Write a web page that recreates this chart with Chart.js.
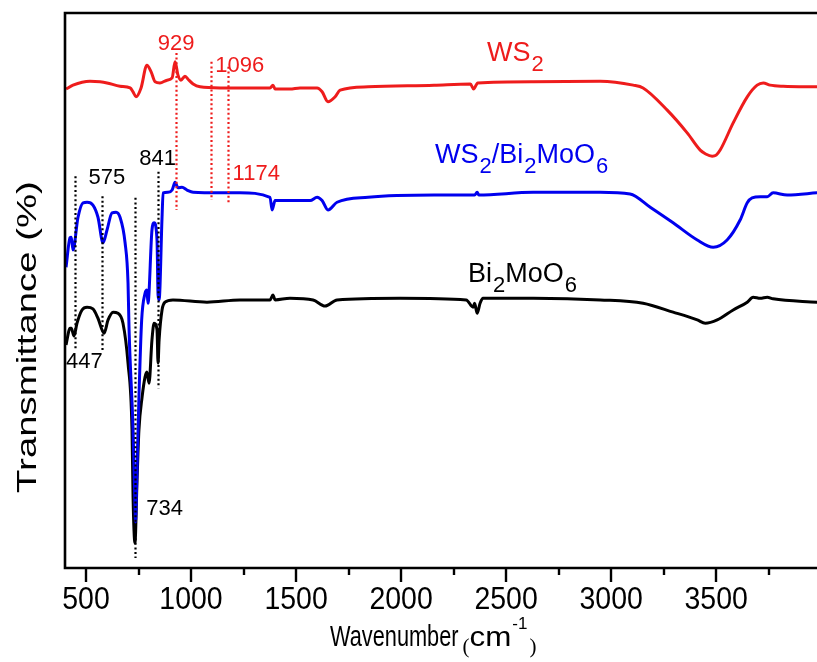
<!DOCTYPE html>
<html>
<head>
<meta charset="utf-8">
<script src="https://cdn.jsdelivr.net/npm/chart.js@4.4.1/dist/chart.umd.min.js"></script>
<style>
  body { margin: 0; background: #fff; }
</style>
</head>
<body>
<canvas id="ftirChart" width="817" height="662"></canvas>
<script>
// FTIR spectra: WS2, WS2/Bi2MoO6 and Bi2MoO6 (offset transmittance)
var ws2Wn = [405,438,519,567,600,662,710,724,738,762,790,810,829,852,886,910,924,938,952,971,990,1010,1043,1138,1233,1376,1390,1400,1471,1519,1600,1624,1652,1686,1710,1843,2157,2330,2345,2365,2629,2948,3105,3152,3267,3362,3424,3450,3481,3500,3519,3581,3648,3695,3724,3757,3819,3981];
var ws2T = [86.3,87.0,87.7,87.6,87.4,86.8,86.5,85.8,84.9,86.5,90.6,89.4,87.6,87.4,87.9,88.3,91.2,88.8,87.9,88.6,87.9,87.2,86.7,86.5,86.5,86.5,87.0,86.3,86.3,86.5,86.5,85.8,84.0,84.9,86.1,86.7,87.0,87.2,86.3,87.4,87.6,87.7,87.0,86.5,82.5,78.4,75.3,74.6,74.2,74.4,75.3,80.2,84.9,87.0,87.4,87.0,86.8,86.7];

var compWn = [405,424,430,438,462,486,505,533,557,581,600,624,643,662,686,700,705,724,733,736,740,752,765,781,790,795,814,824,838,843,848,862,867,890,910,924,938,957,981,1010,1138,1233,1376,1386,1400,1567,1600,1624,1652,1695,1843,2157,2350,2362,2370,2629,2948,3090,3186,3295,3410,3486,3552,3614,3648,3671,3710,3743,3771,3838,3981];
var compT = [54.2,59.5,59.6,57.3,63.2,65.8,65.9,65.4,63.2,58.6,60.9,64.0,64.1,63.2,58.6,51.4,42.9,24.9,11.4,8.3,13.2,30.8,44.7,49.5,50.1,47.7,60.9,62.2,59.1,49.2,48.3,63.2,67.6,67.7,68.1,69.5,68.5,68.6,68.1,67.7,67.6,67.6,66.8,64.5,66.2,66.2,66.8,66.2,64.5,65.9,66.8,67.2,67.2,67.7,67.2,67.7,67.7,67.4,65.0,62.2,59.1,57.8,59.1,62.7,65.8,66.7,66.9,66.9,67.6,67.2,67.6];

var bmoWn = [405,424,430,443,457,481,505,533,557,586,605,629,652,676,700,719,724,733,743,752,767,781,790,800,814,824,838,843,848,862,876,914,1076,1233,1376,1390,1400,1471,1581,1638,1695,1995,2310,2343,2350,2362,2376,2390,2629,2948,3152,3295,3410,3448,3505,3581,3648,3676,3710,3743,3771,3981];
var bmoT = [40.2,43.2,43.2,41.8,44.1,46.5,47.0,46.7,45.0,42.3,44.7,46.1,45.9,44.1,36.9,24.9,12.8,4.5,15.9,24.9,30.8,34.4,35.3,33.3,41.1,44.1,42.9,36.9,41.1,46.5,47.9,48.3,47.9,48.3,48.3,49.2,48.3,48.6,48.3,47.2,48.3,48.6,48.3,47.0,47.7,45.9,47.7,48.6,48.6,48.3,47.7,46.1,44.7,44.1,44.7,46.5,47.9,48.8,48.6,48.8,48.5,47.9];

// marked band positions (cm-1) and the span of their dotted guides
var bandWn = [447, 575, 734, 841];
var bandTop = [70.6, 67.0, 66.7, 71.4];
var bandBottom = [39.3, 38.9, 1.8, 32.4];
var ws2BandWn = [929, 1096, 1174];
var ws2BandTop = [92.8, 91.2, 90.3];
var ws2BandBottom = [64.5, 66.3, 65.9];

var majorTicks = [500, 1000, 1500, 2000, 2500, 3000, 3500];
var minorTicks = [750, 1250, 1750, 2250, 2750, 3250, 3750];

var SANS = '"Liberation Sans", Arial, sans-serif';
var SERIF = '"Liberation Serif", "Times New Roman", serif';

function toPoints(xs, ys) {
    return xs.map(function (x, i) { return { x: x, y: ys[i] }; });
}

// text with horizontal squeeze / stretch
function putText(ctx, str, x, y, size, color, sx, align, family) {
    ctx.save();
    ctx.font = size + 'px ' + (family || SANS);
    ctx.fillStyle = color;
    ctx.textBaseline = 'alphabetic';
    var w = ctx.measureText(str).width * sx;
    var x0 = align === 'center' ? x - w / 2 : x;
    ctx.translate(x0, y);
    ctx.scale(sx, 1);
    ctx.fillText(str, 0, 0);
    ctx.restore();
    return w;
}

// formula label, parts marked sub are lowered and smaller
function putFormula(ctx, parts, x, y, color) {
    var cx = x;
    parts.forEach(function (p) {
        if (p.sub) {
            cx += putText(ctx, p.t, cx + 1, y + 10, 22, color, 1) + 1;
        } else {
            cx += putText(ctx, p.t, cx, y, 27, color, 1);
        }
    });
}

var decorations = {
    id: 'decorations',
    afterDatasetsDraw: function (chart) {
        var ctx = chart.ctx;
        var xs = chart.scales.x, ys = chart.scales.y;
        var area = chart.chartArea;

        // dotted band guides
        ctx.save();
        ctx.lineWidth = 2.2;
        ctx.setLineDash([2, 2.6]);
        ctx.strokeStyle = '#000';
        bandWn.forEach(function (w, i) {
            var px = Math.round(xs.getPixelForValue(w)) + 0.5;
            ctx.beginPath();
            ctx.moveTo(px, ys.getPixelForValue(bandTop[i]));
            ctx.lineTo(px, ys.getPixelForValue(bandBottom[i]));
            ctx.stroke();
        });
        ctx.strokeStyle = '#ee1c1c';
        ws2BandWn.forEach(function (w, i) {
            var px = Math.round(xs.getPixelForValue(w)) + 0.5;
            ctx.beginPath();
            ctx.moveTo(px, ys.getPixelForValue(ws2BandTop[i]));
            ctx.lineTo(px, ys.getPixelForValue(ws2BandBottom[i]));
            ctx.stroke();
        });
        ctx.restore();

        // band labels
        var bx = bandWn.map(function (w) { return xs.getPixelForValue(w); });
        var rx = ws2BandWn.map(function (w) { return xs.getPixelForValue(w); });
        putText(ctx, String(bandWn[0]), area.left + 1, 368, 22, '#000', 1);
        putText(ctx, String(bandWn[1]), bx[1] + 5, 184, 22, '#000', 1, 'center');
        putText(ctx, String(bandWn[2]), bx[2] + 11, 515, 22, '#000', 1);
        putText(ctx, String(bandWn[3]), bx[3], 165, 22, '#000', 1, 'center');
        putText(ctx, String(ws2BandWn[0]), rx[0], 50, 22, '#ee1c1c', 1, 'center');
        putText(ctx, String(ws2BandWn[1]), rx[1] + 4, 72, 22, '#ee1c1c', 1);
        putText(ctx, String(ws2BandWn[2]), rx[2] + 5, 180, 22, '#ee1c1c', 1);

        // curve names
        putFormula(ctx, [{ t: 'WS' }, { t: '2', sub: true }], 487, 61, '#ee1c1c');
        putFormula(ctx, [{ t: 'WS' }, { t: '2', sub: true }, { t: '/Bi' }, { t: '2', sub: true },
            { t: 'MoO' }, { t: '6', sub: true }], 435, 163, '#0000ee');
        putFormula(ctx, [{ t: 'Bi' }, { t: '2', sub: true }, { t: 'MoO' }, { t: '6', sub: true }], 468, 282, '#000');
    },
    afterDraw: function (chart) {
        var ctx = chart.ctx;
        var xs = chart.scales.x;
        var a = chart.chartArea;

        // frame (open on the right)
        ctx.save();
        ctx.strokeStyle = '#000';
        ctx.lineWidth = 2.6;
        ctx.beginPath();
        ctx.moveTo(a.right + 2, a.top);
        ctx.lineTo(a.left, a.top);
        ctx.lineTo(a.left, a.bottom);
        ctx.lineTo(a.right + 2, a.bottom);
        ctx.stroke();

        // x ticks
        ctx.lineWidth = 2.4;
        majorTicks.forEach(function (v) {
            var px = Math.round(xs.getPixelForValue(v));
            ctx.beginPath();
            ctx.moveTo(px, a.bottom);
            ctx.lineTo(px, a.bottom + 14);
            ctx.stroke();
        });
        minorTicks.forEach(function (v) {
            var px = Math.round(xs.getPixelForValue(v));
            ctx.beginPath();
            ctx.moveTo(px, a.bottom);
            ctx.lineTo(px, a.bottom + 7);
            ctx.stroke();
        });
        ctx.restore();

        majorTicks.forEach(function (v) {
            putText(ctx, String(v), xs.getPixelForValue(v), 609, 32, '#000', 0.89, 'center');
        });

        // x title
        var cx = 330;
        cx += putText(ctx, 'Wavenumber', cx, 646, 29, '#000', 0.75);
        cx += 4;
        cx += putText(ctx, '(', cx, 653, 21, '#000', 1, null, SERIF);
        cx += putText(ctx, 'cm', cx, 646, 28, '#000', 1.12);
        cx += putText(ctx, '-1', cx + 1, 629, 17, '#000', 1);
        putText(ctx, ')', cx + 3, 653, 21, '#000', 1, null, SERIF);

        // y title
        ctx.save();
        ctx.translate(29, 337);
        ctx.rotate(-Math.PI / 2);
        ctx.scale(1.42, 1);
        ctx.font = '27px ' + SANS;
        ctx.fillStyle = '#000';
        ctx.textAlign = 'center';
        ctx.textBaseline = 'middle';
        ctx.fillText('Transmittance (%)', 0, 0);
        ctx.restore();
    }
};

var ctx = document.getElementById('ftirChart').getContext('2d');
var ftirChart = new Chart(ctx, {
    type: 'line',
    data: {
        datasets: [{
            label: 'WS2',
            data: toPoints(ws2Wn, ws2T),
            borderColor: '#ee1c1c',
            order: 2
        }, {
            label: 'WS2/Bi2MoO6',
            data: toPoints(compWn, compT),
            borderColor: '#0000ee',
            order: 0
        }, {
            label: 'Bi2MoO6',
            data: toPoints(bmoWn, bmoT),
            borderColor: '#000000',
            order: 1
        }]
    },
    options: {
        responsive: false,
        animation: false,
        elements: {
            line: { borderWidth: 3, cubicInterpolationMode: 'monotone', fill: false },
            point: { radius: 0 }
        },
        layout: {
            padding: { left: 65, top: 13, right: 0, bottom: 94 }
        },
        scales: {
            x: { type: 'linear', min: 400, max: 3980, display: false },
            y: { min: 0, max: 100, display: false }
        },
        plugins: {
            legend: { display: false },
            tooltip: { enabled: false }
        }
    },
    plugins: [decorations]
});
</script>
</body>
</html>
